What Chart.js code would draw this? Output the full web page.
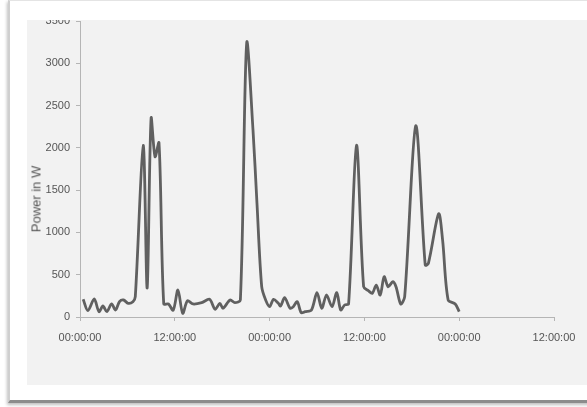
<!DOCTYPE html>
<html>
<head>
<meta charset="utf-8">
<script src="https://cdn.jsdelivr.net/npm/chart.js@4.4.0/dist/chart.umd.min.js"></script>
<style>
  html, body { margin: 0; padding: 0; width: 587px; height: 407px; overflow: hidden; background: #fff; }
  #frame {
    position: absolute; left: 8px; top: 0px; width: 600px; height: 399px;
    border-left: 2px solid #cfcfcf; border-top: 1px solid #e4e4e4; border-bottom: 3px solid #8c8c8c;
    box-shadow: -1px 2px 3px rgba(0,0,0,0.25);
  }
  #plot {
    position: absolute; left: 27px; top: 20px; width: 560px; height: 365px;
    background: #f2f2f2; overflow: hidden;
  }
  #ytitle {
    position: absolute; left: 36px; top: 199px;
    transform: translate(-50%, -50%) rotate(-90deg);
    font: 13px "Liberation Sans", sans-serif; color: #555; white-space: nowrap;
  }
</style>
</head>
<body>
<div id="frame"></div>
<div id="plot"><canvas id="chart_power" width="560" height="365"></canvas></div>
<div id="ytitle">Power in W</div>
<script>
  // time in hours from first midnight
  const hours = [0.4, 1.0, 1.8, 2.4, 2.9, 3.4, 4.0, 4.5, 5.0, 5.5, 6.1, 6.7, 7.0, 8.0, 8.5, 9.0, 9.5, 10.0,
    10.6, 11.2, 11.8, 12.4, 13.0, 13.6, 14.3, 15.4, 16.4, 17.1, 17.7, 18.1, 19.0, 19.6, 20.3, 21.1, 21.9,
    22.4, 23.0, 23.5, 24.0, 24.5, 25.1, 25.4, 25.9, 26.6, 27.0, 27.5, 28.0, 28.5, 29.3, 30.0, 30.6, 31.2,
    31.9, 32.5, 33.0, 33.5, 34.0, 35.0, 35.9, 36.5, 37.0, 37.5, 38.0, 38.5, 39.0, 39.6, 40.0, 40.6, 41.1,
    42.5, 43.7, 44.1, 45.4, 45.9, 46.6, 47.5, 48.0];
  const power = [209, 75, 213, 63, 130, 63, 154, 83, 181, 201, 162, 181, 240, 2030, 343, 2350, 1895, 2060,
    154, 154, 80, 319, 44, 193, 154, 169, 209, 91, 162, 103, 201, 169, 201, 3240, 2210,
    1348, 358, 200, 122, 209, 162, 130, 228, 103, 122, 181, 51, 63, 83, 288, 103, 260,
    122, 288, 83, 142, 154, 2030, 358, 311, 280, 378, 260, 476, 358, 417, 358, 154, 240,
    2260, 615, 635, 1220, 910, 201, 154, 63];
  const yTicks = [0, 500, 1000, 1500, 2000, 2500, 3000, 3500];

  const points = hours.map((h, i) => ({ x: h, y: power[i] }));
  const tickFont = { size: 11, family: "'Liberation Sans', sans-serif" };

  new Chart(document.getElementById('chart_power'), {
    type: 'line',
    data: {
      datasets: [{
        label: 'Power',
        data: points,
        borderColor: '#606060',
        borderWidth: 2.8,
        pointRadius: 0,
        tension: 0.3
      }]
    },
    options: {
      responsive: false,
      animation: false,
      layout: { padding: { top: 1, right: 33, left: 0, bottom: 0 } },
      plugins: { legend: { display: false }, tooltip: { enabled: false } },
      scales: {
        x: {
          type: 'linear',
          min: 0,
          max: 60,
          ticks: {
            stepSize: 12,
            color: '#555',
            font: tickFont,
            padding: 10,
            maxRotation: 0,
            callback: v => (v % 24 === 0 ? '00' : '12') + ':00:00'
          },
          grid: { drawOnChartArea: false, tickLength: 4, color: '#b5b5b5' },
          border: { color: '#b5b5b5' },
          afterFit: s => { s.height = 68; s.paddingLeft = 0; s.paddingRight = 0; }
        },
        y: {
          min: 0,
          max: 3500,
          afterBuildTicks: s => { s.ticks = yTicks.map(v => ({ value: v })); },
          ticks: { color: '#555', font: tickFont, padding: 6, callback: v => String(v) },
          grid: { drawOnChartArea: false, tickLength: 4, color: '#b5b5b5' },
          border: { color: '#b5b5b5' },
          afterFit: s => { s.width = 53; s.paddingTop = 0; s.paddingBottom = 0; }
        }
      }
    }
  });
</script>
</body>
</html>
